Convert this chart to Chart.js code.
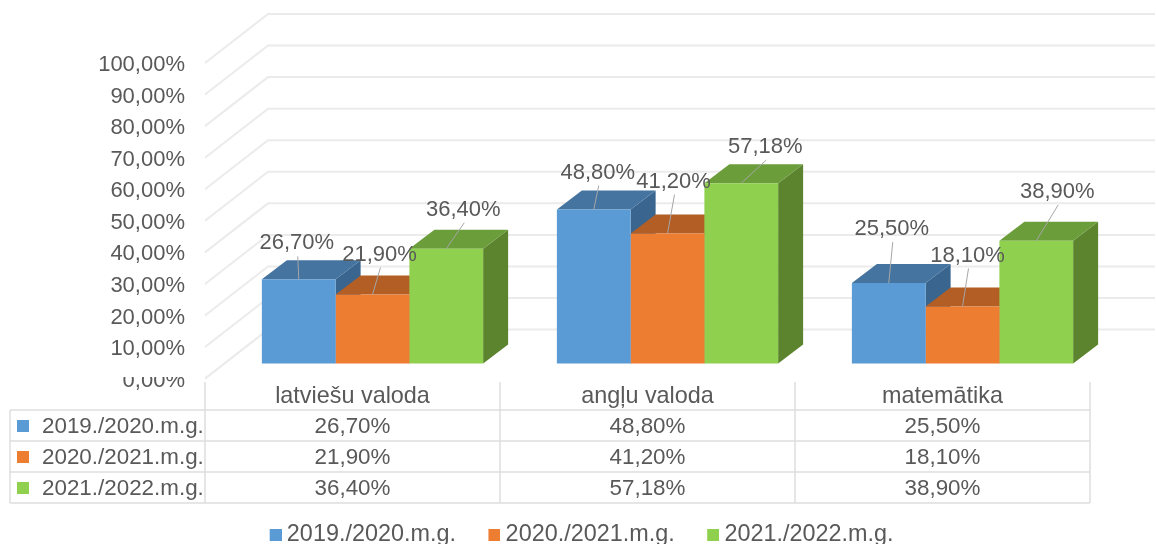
<!DOCTYPE html>
<html lang="lv">
<head>
<meta charset="UTF-8">
<title>Chart</title>
<style>
  html, body { margin: 0; padding: 0; background: #fff; overflow: hidden; }
  canvas { display: block; filter: blur(0.4px); }
</style>
</head>
<body>
<canvas id="chart" width="1156" height="544"></canvas>
<script src="https://cdn.jsdelivr.net/npm/chart.js"></script>
<script>
const categories = ['latviešu valoda', 'angļu valoda', 'matemātika'];
const seriesNames = ['2019./2020.m.g.', '2020./2021.m.g.', '2021./2022.m.g.'];
const values2019 = [26.7, 48.8, 25.5];
const values2020 = [21.9, 41.2, 18.1];
const values2021 = [36.4, 57.18, 38.9];
const seriesValues = [values2019, values2020, values2021];

const frontColors = ['#5b9bd5', '#ed7d31', '#8fd14f'];
const topColors = ['#44749f', '#b25e25', '#6b9d3b'];
const sideColors = ['#39658f', '#a5521c', '#5c842f'];

const FAMILY = '"Liberation Sans", Arial, sans-serif';
const TEXT = '#595959';
const GRID = '#ebebeb';
const TABLE_LINE = '#dedede';

// the 3D look: wall depth, how far the bars sit from the front edge, bar depth
const wall = { dx: 63, dy: -49 };
const barShift = { dx: 20, dy: -15 };
const barDepth = { dx: 25, dy: -19 };

// where each value label sits, relative to the top middle of its bar
const labelOffsets = [
  [[-2, -36], [4, -37], [3, -54]],
  [[7, -40], [6, -52], [5, -51]],
  [[17, -39], [24, -36], [21, -49]]
];

const tableRows = [410, 441, 472, 503];

function pct(v) {
  return v.toFixed(2).replace('.', ',') + '%';
}

function poly(ctx, pts, color) {
  ctx.fillStyle = color;
  ctx.beginPath();
  pts.forEach((p, i) => i ? ctx.lineTo(p[0], p[1]) : ctx.moveTo(p[0], p[1]));
  ctx.closePath();
  ctx.fill();
}

// legend key: square on the right end so the text sits close to it
function legendKey(color) {
  const c = document.createElement('canvas');
  c.width = 25;
  c.height = 12;
  const g = c.getContext('2d');
  g.fillStyle = color;
  g.fillRect(13, 0, 12, 12);
  return c;
}

const wallsAndBars = {
  id: 'wallsAndBars',
  beforeDatasetsDraw(chart) {
    const { ctx, scales: { x, y } } = chart;
    ctx.save();
    ctx.strokeStyle = GRID;
    ctx.lineWidth = 2;
    y.ticks.forEach(t => {
      const py = y.getPixelForValue(t.value);
      ctx.beginPath();
      ctx.moveTo(x.left, py);
      ctx.lineTo(x.left + wall.dx, py + wall.dy);
      ctx.lineTo(1155, py + wall.dy);
      ctx.stroke();
    });
    ctx.restore();

    ctx.save();
    ctx.translate(barShift.dx, barShift.dy);
    seriesValues.forEach((vals, i) => {
      chart.getDatasetMeta(i).data.forEach(bar => {
        const l = bar.x - bar.width / 2, r = bar.x + bar.width / 2;
        const d = barDepth;
        poly(ctx, [[r, bar.y], [r + d.dx, bar.y + d.dy], [r + d.dx, bar.base + d.dy], [r, bar.base]], sideColors[i]);
        poly(ctx, [[l, bar.y], [l + d.dx, bar.y + d.dy], [r + d.dx, bar.y + d.dy], [r, bar.y]], topColors[i]);
      });
    });
  },
  afterDatasetsDraw(chart) {
    const { ctx } = chart;
    ctx.restore();

    // value labels with their leader lines
    ctx.save();
    ctx.font = '22px ' + FAMILY;
    ctx.textAlign = 'center';
    ctx.textBaseline = 'middle';
    seriesValues.forEach((vals, i) => {
      chart.getDatasetMeta(i).data.forEach((bar, j) => {
        const bx = bar.x + barShift.dx, by = bar.y + barShift.dy;
        const cx = bx + labelOffsets[i][j][0], cy = by + labelOffsets[i][j][1];
        ctx.strokeStyle = '#a6a6a6';
        ctx.lineWidth = 1;
        ctx.beginPath();
        ctx.moveTo(bx, by);
        ctx.lineTo(cx + 1, cy + 13);
        ctx.stroke();
        ctx.fillStyle = TEXT;
        ctx.fillText(pct(vals[j]), cx, cy);
      });
    });
    ctx.restore();
  }
};

const dataTable = {
  id: 'dataTable',
  afterDraw(chart) {
    const { ctx, scales: { x } } = chart;
    const colW = x.width / categories.length;
    const top = tableRows[0], bottom = tableRows[tableRows.length - 1];
    ctx.save();
    // the reference cuts off the top of the 0,00% label
    ctx.fillStyle = '#fff';
    ctx.fillRect(0, 360, x.left - 2, 17);

    ctx.strokeStyle = TABLE_LINE;
    ctx.lineWidth = 1.5;
    ctx.beginPath();
    tableRows.forEach(ry => {
      ctx.moveTo(10, ry);
      ctx.lineTo(x.right, ry);
    });
    ctx.moveTo(10, top);
    ctx.lineTo(10, bottom);
    for (let j = 0; j <= categories.length; j++) {
      ctx.moveTo(x.left + j * colW, 382);
      ctx.lineTo(x.left + j * colW, bottom);
    }
    ctx.stroke();

    ctx.font = '22.4px ' + FAMILY;
    ctx.textBaseline = 'middle';
    seriesNames.forEach((name, i) => {
      const my = (tableRows[i] + tableRows[i + 1]) / 2 + 1.5;
      ctx.fillStyle = frontColors[i];
      ctx.fillRect(17, my - 7, 12, 12);
      ctx.fillStyle = TEXT;
      ctx.textAlign = 'left';
      ctx.fillText(name, 42, my);
      ctx.textAlign = 'center';
      seriesValues[i].forEach((v, j) => {
        ctx.fillText(pct(v), x.left + (j + 0.5) * colW, my);
      });
    });
    ctx.restore();
  }
};

const moveLegend = {
  id: 'moveLegend',
  afterLayout(chart) {
    const lg = chart.legend;
    lg.top = 497;
    lg.left += 33.3;
    lg.right += 33.3;
  }
};

new Chart(document.getElementById('chart'), {
  type: 'bar',
  data: {
    labels: categories,
    datasets: seriesNames.map((name, i) => ({
      label: name,
      data: seriesValues[i],
      backgroundColor: frontColors[i],
      barPercentage: 1,
      categoryPercentage: 0.75,
      clip: false
    }))
  },
  options: {
    responsive: false,
    animation: false,
    layout: { padding: { top: 63, right: 66, left: 0, bottom: 0 } },
    plugins: {
      tooltip: { enabled: false },
      legend: {
        position: 'bottom',
        labels: {
          usePointStyle: true,
          pointStyleWidth: 12,
          padding: 26,
          color: TEXT,
          font: { family: FAMILY, size: 23.4 },
          generateLabels(chart) {
            return Chart.defaults.plugins.legend.labels.generateLabels(chart).map((item, i) => {
              item.pointStyle = legendKey(frontColors[i]);
              return item;
            });
          }
        }
      }
    },
    scales: {
      x: {
        grid: { display: false, drawTicks: false },
        border: { display: false },
        ticks: { color: TEXT, padding: 4, font: { family: FAMILY, size: 23.4 } },
        afterFit(s) { s.height = 106; }
      },
      y: {
        min: 0,
        max: 100,
        grid: { display: false, drawTicks: false },
        border: { display: false },
        ticks: {
          stepSize: 10,
          color: TEXT,
          padding: 20,
          labelOffset: 2,
          font: { family: FAMILY, size: 22 },
          callback: v => pct(v)
        },
        afterFit(s) { s.width = 205; }
      }
    }
  },
  plugins: [wallsAndBars, dataTable, moveLegend]
});
</script>
</body>
</html>
